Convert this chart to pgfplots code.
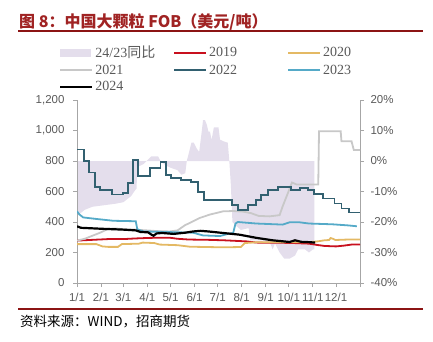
\documentclass[border=0pt]{standalone}
\usepackage{fontspec}
\setmainfont{Liberation Serif}
\setsansfont{Liberation Sans}
\newfontfamily\cjk{Noto Sans CJK SC}
\usepackage{pgfplots}
\pgfplotsset{compat=1.18}
\definecolor{lav}{RGB}{228,222,236}
\definecolor{red19}{RGB}{200,16,30}
\definecolor{gold20}{RGB}{228,185,100}
\definecolor{gray21}{RGB}{200,200,200}
\definecolor{teal22}{RGB}{50,96,112}
\definecolor{blue23}{RGB}{85,170,200}
\definecolor{tickgray}{RGB}{89,89,89}
\definecolor{axisgray}{RGB}{166,166,166}
\definecolor{titlered}{RGB}{160,35,35}
\definecolor{linered}{RGB}{140,20,20}
\pgfplotsset{
  common/.style={
    at={(77pt,58pt)}, anchor=south west,
    width=283pt, height=183pt, scale only axis,
    xmin=0, xmax=366,
    axis line style={draw=axisgray, line width=0.8pt, -},
    tick style={draw=axisgray, line width=0.8pt},
    tick align=outside, major tick length=4pt,
    ticklabel style={font=\sffamily\fontsize{11.5}{13}\selectfont, text=tickgray},
    /pgf/number format/assume math mode=true,
  }
}
\begin{document}
\begin{tikzpicture}[x=1pt,y=1pt]
\path[use as bounding box] (0,0) rectangle (433,341);
\node[anchor=base west, inner sep=0, text=titlered, font=\cjk\bfseries\fontsize{16}{18}\selectfont] at (19,314) {图 8：中国大颗粒 FOB（美元/吨）};
\draw[linered, line width=2pt] (18,310) -- (423,310);
\draw[linered, line width=2pt] (18,32) -- (423,32);
\node[anchor=base west, inner sep=0, font=\cjk\fontsize{13.5}{15}\selectfont] at (20,15) {资料来源：WIND，招商期货};

% right axis: ratio area
\begin{axis}[common,
  ymin=-40, ymax=20,
  axis x line=none, axis y line*=right,
  ytick={-40,-30,-20,-10,0,10,20},
  yticklabels={-40\%,-30\%,-20\%,-10\%,0\%,10\%,20\%},
  yticklabel style={xshift=3pt},
]
\addplot[fill=lav, draw=none] coordinates {
(0,0) (0,-18) (5,-17) (10,-16) (20,-15) (35,-14.5) (50,-14) (60,-13.5) (65,-12.5) (70,-11.5) (74,-10) (77,-9) (78,-2) (86,-1) (92,0.5) (96,1.5) (105,1.5) (108,0) (115,-1.5) (122,-2.3) (130,-3) (135,-4.5) (140,-4) (142,0) (145,3) (148,6) (151,6) (155,4) (158,3) (161,9) (163,13.4) (165.5,13.4) (168,11.8) (170,9.6) (172,9.6) (174,6.9) (177,11) (183,11) (185,7) (189,6.5) (195,6) (197,0) (199,-8) (201,-20) (207,-21.5) (212,-22.6) (222,-22) (224,-26) (240,-26) (250,-27) (253,-29) (256,-27) (262,-30) (268,-32) (275,-32) (282,-31) (286,-29) (295,-29) (300,-30) (305,-29) (307,-29) (307,0)
};
\end{axis}

% left axis: prices
\begin{axis}[common,
  ymin=0, ymax=1200,
  axis x line*=bottom, axis y line*=left,
  ytick={0,200,400,600,800,1000,1200},
  /pgf/number format/1000 sep={,},
  yticklabel style={xshift=-5pt},
  xticklabel style={yshift=-3pt},
  xtick={0,31,60,91,121,152,182,213,244,274,305,335,366},
  xticklabels={1/1,2/1,3/1,4/1,5/1,6/1,7/1,8/1,9/1,10/1,11/1,12/1,{}},
  legend columns=3,
  legend cell align=left,
  legend style={at={(0,1)}, anchor=north west, xshift=-18pt, yshift=56pt,
    draw=none, fill=none, inner sep=0pt,
    font=\fontsize{14}{16}\selectfont, text=tickgray,
    row sep=1.5pt},
]
\addplot[red19, line width=1.8pt, forget plot] coordinates {
(0,278) (20,283) (40,288) (60,288) (75,292) (95,296) (120,297) (130,290) (145,285) (170,283) (190,280) (219,273) (232,265) (275,263) (300,258) (310,250) (320,243) (335,240) (345,245) (355,252) (366,253)
};
\addplot[gold20, line width=1.8pt, forget plot] coordinates {
(0,255) (25,255) (33,240) (40,237) (53,237) (58,255) (80,258) (85,265) (100,262) (107,252) (130,248) (146,238) (167,236) (189,234) (212,236) (217,262) (232,267) (297,267) (310,272) (320,280) (326,282) (328,295) (331,290) (334,282) (350,285) (366,285)
};
\addplot[gray21, line width=1.8pt, forget plot] coordinates {
(0,278) (10,290) (20,310) (30,330) (40,355) (50,358) (60,352) (75,350) (90,345) (105,340) (120,338) (130,345) (140,380) (146,394) (159,427) (172,449) (189,470) (202,472) (215,468) (225,458) (235,440) (249,437) (262,445) (266,503) (273,593) (278,659) (284,646) (312,646) (313,995) (341,995) (342,930) (355,930) (358,872) (366,872)
};
\addplot[teal22, line width=1.8pt, forget plot] coordinates {
(0,876) (9,876) (9,800) (16,800) (16,725) (23,725) (23,631) (30,631) (30,612) (45,612) (45,581) (60,581) (60,592) (66,592) (66,658) (72,658) (72,806) (79,806) (79,701) (94,701) (94,756) (108,756) (108,796) (115,796) (115,706) (122,706) (122,686) (134,686) (134,674) (147,674) (147,663) (156,663) (156,595) (164,595) (164,545) (200,545) (200,510) (208,510) (208,480) (221,480) (221,510) (232,510) (232,543) (238,543) (238,576) (247,576) (247,609) (260,609) (260,631) (277,631) (277,609) (288,609) (288,624) (299,624) (299,609) (306,609) (306,583) (318,583) (318,554) (333,554) (333,521) (342,521) (342,488) (352,488) (352,462) (366,462)
};
\addplot[blue23, line width=1.8pt, forget plot] coordinates {
(0,470) (3,450) (8,430) (25,420) (47,408) (76,405) (78,352) (86,338) (110,335) (150,330) (163,312) (185,308) (195,322) (202,328) (205,390) (208,400) (232,390) (266,383) (275,398) (288,398) (300,390) (330,385) (350,378) (362,372)
};
\addplot[black, line width=2.2pt, forget plot] coordinates {
(0,372) (5,362) (30,356) (60,350) (76,345) (82,335) (92,332) (96,318) (99,310) (103,325) (110,328) (125,322) (140,330) (150,338) (160,342) (170,338) (189,328) (210,317) (232,296) (253,280) (275,269) (282,280) (290,270) (300,268) (308,265)
};

\addlegendimage{legend image code/.code={\fill[lav] (0pt,-3.5pt) rectangle (30pt,3.5pt);}}
\addlegendentry{\makebox[76pt][l]{24/23{\cjk 同比}}}
\addlegendimage{legend image code/.code={\draw[red19, line width=1.8pt] (0pt,0pt) -- (32pt,0pt);}}
\addlegendentry{\makebox[76pt][l]{2019}}
\addlegendimage{legend image code/.code={\draw[gold20, line width=1.8pt] (0pt,0pt) -- (32pt,0pt);}}
\addlegendentry{\makebox[76pt][l]{2020}}
\addlegendimage{legend image code/.code={\draw[gray21, line width=1.8pt] (0pt,0pt) -- (32pt,0pt);}}
\addlegendentry{\makebox[76pt][l]{2021}}
\addlegendimage{legend image code/.code={\draw[teal22, line width=1.8pt] (0pt,0pt) -- (32pt,0pt);}}
\addlegendentry{\makebox[76pt][l]{2022}}
\addlegendimage{legend image code/.code={\draw[blue23, line width=1.8pt] (0pt,0pt) -- (32pt,0pt);}}
\addlegendentry{\makebox[76pt][l]{2023}}
\addlegendimage{legend image code/.code={\draw[black, line width=2.2pt] (0pt,0pt) -- (32pt,0pt);}}
\addlegendentry{\makebox[76pt][l]{2024}}
\end{axis}
\end{tikzpicture}
\end{document}
